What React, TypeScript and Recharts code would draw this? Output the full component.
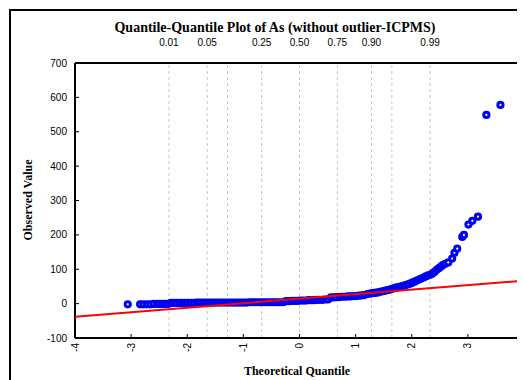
import React from 'react';
import { ScatterChart, Scatter, XAxis, YAxis, ReferenceLine } from 'recharts';

const theoretical = [
  -3.06,
  -2.84, -2.78, -2.72, -2.66, -2.6, -2.54, -2.49, -2.44, -2.39, -2.34,
  -2.29, -2.24, -2.19, -2.14, -2.09, -2.04, -1.99, -1.94, -1.89, -1.84,
  -1.79, -1.74, -1.69, -1.64, -1.59, -1.54, -1.49, -1.44, -1.39, -1.34,
  -1.29, -1.24, -1.19, -1.14, -1.09, -1.04, -0.99, -0.94, -0.89, -0.84,
  -0.79, -0.74, -0.69, -0.64, -0.59, -0.54, -0.49, -0.44, -0.39, -0.34, -0.29,
  -0.24, -0.19, -0.14, -0.09, -0.04, 0.01, 0.06, 0.11, 0.16, 0.21,
  0.26, 0.31, 0.36, 0.41, 0.46, 0.51,
  0.56, 0.61, 0.66, 0.71, 0.76, 0.81, 0.86, 0.91, 0.96, 1.01, 1.06, 1.11, 1.16,
  1.21, 1.25, 1.29, 1.33, 1.37, 1.41, 1.45, 1.49, 1.53, 1.57, 1.61, 1.65, 1.69,
  1.73, 1.77, 1.81, 1.85, 1.89, 1.93, 1.97, 2.01, 2.05, 2.09, 2.13, 2.17, 2.21, 2.25, 2.29,
  2.33, 2.37, 2.41, 2.45, 2.49, 2.53, 2.56, 2.6, 2.65, 2.72, 2.76, 2.81, 2.9, 2.93,
  3.01, 3.08, 3.18, 3.33, 3.58,
];
const observed = [
  -2,
  -2, -2, -2, -2, -1, -1, -1, -1, -1, -1,
  2, 2, 2, 2, 2, 2, 2, 2, 2, 3,
  3, 3, 3, 3, 3, 3, 3, 3, 3, 3,
  3, 3, 3, 3, 3, 3, 3, 3, 4, 4,
  4, 4, 4, 4, 4, 4, 4, 4, 4, 4, 4,
  7, 7, 8, 8, 8, 9, 9, 9, 10, 10,
  10, 11, 11, 11, 12, 12,
  18, 18, 19, 19, 20, 20, 21, 21, 22, 22, 23, 24, 25,
  28, 29, 30, 31, 32, 33, 35, 36, 38, 39, 41, 43, 45,
  47, 48, 50, 52, 54, 56, 58, 61, 64, 67, 70, 73, 76, 79, 82,
  84, 88, 93, 99, 104, 109, 113, 116, 120, 131, 148, 160, 194, 200,
  230, 241, 253, 549, 578,
];

const xTicks = [-4, -3, -2, -1, 0, 1, 2, 3, 4];
const yTicks = [-100, 0, 100, 200, 300, 400, 500, 600, 700];

// probability reference lines (normal quantiles of these probabilities)
const gridZ = [-2.326, -1.645, -1.282, -0.674, 0, 0.674, 1.282, 1.645, 2.326];
const probTickZ = [-2.326, -1.645, -0.674, 0, 0.674, 1.282, 2.326];
const probTickLabels = ['0.01', '0.05', '0.25', '0.50', '0.75', '0.90', '0.99'];

// fitted reference line endpoints
const fitX = [-4, 4];
const fitY = [-38, 67];

const points = theoretical.map((x, i) => ({ x, y: observed[i] }));
const fitLine = fitX.map((x, i) => ({ x, y: fitY[i] }));

const TICK_FONT = { fontFamily: 'Liberation Sans, Arial, sans-serif', fontSize: 10, fill: '#000' };

const LeftTick = (props: any) => {
  const { x, y, payload } = props;
  return (
    <g>
      <line x1={x} x2={x + 4} y1={y} y2={y} stroke="#000" strokeWidth={1} />
      <text x={x - 8} y={y} textAnchor="end" dominantBaseline="central" style={TICK_FONT}>
        {payload.value}
      </text>
    </g>
  );
};

const RightTick = (props: any) => {
  const { x, y } = props;
  return <line x1={x} x2={x - 4} y1={y} y2={y} stroke="#000" strokeWidth={1} />;
};

const BottomTick = (props: any) => {
  const { x, y, payload } = props;
  const ty = y + 5;
  return (
    <g>
      <line x1={x} x2={x} y1={y} y2={y - 4} stroke="#000" strokeWidth={1} />
      <text
        x={x}
        y={ty}
        transform={`rotate(-90 ${x} ${ty})`}
        textAnchor="end"
        dominantBaseline="central"
        style={TICK_FONT}
      >
        {payload.value}
      </text>
    </g>
  );
};

const TopTick = (props: any) => {
  const { x, y, payload } = props;
  const idx = probTickZ.indexOf(payload.value);
  return (
    <text x={x} y={y - 21} textAnchor="middle" dominantBaseline="central" style={TICK_FONT}>
      {idx >= 0 ? probTickLabels[idx] : ''}
    </text>
  );
};

const Dot = (props: any) => {
  const { cx, cy } = props;
  if (cx == null || cy == null) return <g />;
  return <circle cx={cx} cy={cy} r={2.6} fill="#ffffff" stroke="#0000f0" strokeWidth={3} />;
};

const NoShape = () => <g />;

export default function App() {
  return (
    <div style={{ position: 'relative', width: 517, height: 372, overflow: 'hidden', background: '#fff' }}>
      <style>{'html,body{overflow:hidden}'}</style>
      <div
        style={{
          position: 'absolute',
          left: 1,
          top: 1,
          width: 700,
          height: 700,
          border: '2px solid #000',
          boxSizing: 'border-box',
        }}
      />
      <div style={{ position: 'absolute', left: 0, top: 0 }}>
        <ScatterChart width={517} height={372} margin={{ top: 35, right: 0, bottom: 12, left: 0 }}>
          <XAxis
            xAxisId={0}
            dataKey="x"
            type="number"
            domain={[-4, 4]}
            ticks={xTicks}
            interval={0}
            height={30}
            tickSize={0}
            tickMargin={0}
            tickLine={false}
            axisLine={{ stroke: '#000', strokeWidth: 2 }}
            tick={<BottomTick />}
            allowDataOverflow
          />
          <XAxis
            xAxisId="top"
            orientation="top"
            dataKey="x"
            type="number"
            domain={[-4, 4]}
            ticks={probTickZ}
            interval={0}
            height={20}
            tickSize={0}
            tickMargin={0}
            tickLine={false}
            axisLine={{ stroke: '#000', strokeWidth: 2 }}
            tick={<TopTick />}
            allowDataOverflow
          />
          <YAxis
            yAxisId={0}
            dataKey="y"
            type="number"
            domain={[-100, 700]}
            ticks={yTicks}
            interval={0}
            width={67}
            tickSize={0}
            tickMargin={0}
            tickLine={false}
            axisLine={{ stroke: '#000', strokeWidth: 2 }}
            tick={<LeftTick />}
            allowDataOverflow
          />
          <YAxis
            yAxisId="right"
            orientation="right"
            dataKey="y"
            type="number"
            domain={[-100, 700]}
            ticks={yTicks}
            interval={0}
            width={1}
            tickSize={0}
            tickMargin={0}
            tickLine={false}
            axisLine={{ stroke: '#000', strokeWidth: 2 }}
            tick={<RightTick />}
            allowDataOverflow
          />
          {gridZ.map((z) => (
            <ReferenceLine
              key={z}
              x={z}
              xAxisId={0}
              yAxisId={0}
              stroke="#c8c8c8"
              strokeDasharray="3 3"
              strokeWidth={1}
            />
          ))}
          <Scatter
            data={points}
            xAxisId={0}
            yAxisId={0}
            shape={<Dot />}
            isAnimationActive={false}
          />
          <Scatter
            data={fitLine}
            xAxisId={0}
            yAxisId={0}
            line={{ stroke: '#ff0000', strokeWidth: 2 }}
            shape={<NoShape />}
            isAnimationActive={false}
          />
        </ScatterChart>
      </div>
      <div
        style={{
          position: 'absolute',
          left: 0,
          width: 534,
          top: 11,
          textAlign: 'center',
          fontFamily: 'Liberation Serif, Times New Roman, serif',
          fontWeight: 'bold',
          fontSize: 14,
          lineHeight: '17px',
          whiteSpace: 'nowrap',
        }}
      >
        Quantile-Quantile Plot of As (without outlier-ICPMS)
      </div>
      <div
        style={{
          position: 'absolute',
          left: 20,
          top: 192,
          transform: 'translate(-50%, -50%) rotate(-90deg)',
          fontFamily: 'Liberation Serif, Times New Roman, serif',
          fontWeight: 'bold',
          fontSize: 12,
          lineHeight: '14px',
          whiteSpace: 'nowrap',
        }}
      >
        Observed Value
      </div>
      <div
        style={{
          position: 'absolute',
          left: 289,
          top: 363,
          transform: 'translate(-50%, -50%)',
          fontFamily: 'Liberation Serif, Times New Roman, serif',
          fontWeight: 'bold',
          fontSize: 12,
          lineHeight: '14px',
          whiteSpace: 'nowrap',
        }}
      >
        Theoretical Quantile
      </div>
    </div>
  );
}
